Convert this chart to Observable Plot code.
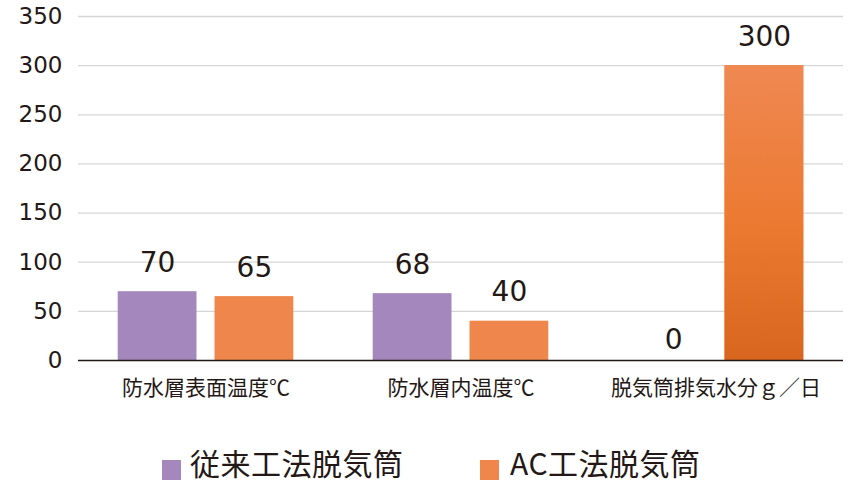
<!DOCTYPE html>
<html><head><meta charset="utf-8">
<script src="https://cdn.jsdelivr.net/npm/d3@7"></script>
<script src="https://cdn.jsdelivr.net/npm/@observablehq/plot@0.6"></script>
<style>
body{margin:0;background:#fff;}
#chart svg{display:block;}
#chart [aria-label^="y-axis"] text{font-family:"DejaVu Sans",sans-serif;font-size:23px;fill:#231815;}
#chart [aria-label^="fx-axis"] text{font-family:"Noto Sans CJK JP",sans-serif;font-size:21px;fill:#231815;}
#legend{position:relative;width:851px;height:65px;font-family:"Noto Sans CJK JP",sans-serif;color:#231815;}
#legend .sw{position:absolute;width:19px;height:20px;top:40px;}
#legend .lb{position:absolute;top:21px;font-size:30px;line-height:1.45;letter-spacing:0.5px;white-space:nowrap;}
</style></head><body><div id="chart"></div><div id="legend"></div>
<script>
const categories = ["防水層表面温度℃", "防水層内温度℃", "脱気筒排気水分ｇ／日"];
const series = ["従来工法脱気筒", "AC工法脱気筒"];
const conventional = [70, 68, 0];
const acMethod = [65, 40, 300];
const yTicks = [0, 50, 100, 150, 200, 250, 300, 350];
const colors = ["#a488bd", "#ef874d"];

const rows = categories.flatMap((c, i) => [
  {category: c, series: series[0], value: conventional[i]},
  {category: c, series: series[1], value: acMethod[i]}
]);
const maxAC = d3.max(acMethod);

const plot = Plot.plot({
  width: 851, height: 420,
  marginLeft: 77, marginRight: 8, marginTop: 16, marginBottom: 60,
  style: {background: "#fff", color: "#231815", fontFamily: "'DejaVu Sans','Noto Sans CJK JP',sans-serif", overflow: "visible"},
  fx: {domain: categories, padding: 0, axis: "bottom", tickSize: 0, tickPadding: 20, label: null},
  x: {domain: series, paddingInner: 0.186, paddingOuter: 0.41, axis: null, round: false},
  y: {domain: [0, 350], ticks: yTicks, tickSize: 0, tickPadding: 16, label: null},
  color: {domain: series, range: colors},
  facet: {data: rows, x: "category"},
  marks: [
    Plot.ruleY(yTicks.filter(t => t > 0), {stroke: "#d6d6d6", strokeWidth: 1.3}),
    Plot.barY(rows, {x: "series", y: "value", fill: "series"}),
    Plot.barY(rows, {filter: d => d.series === series[1] && d.value === maxAC, x: "series", y: "value", fill: "url(#acGrad)"}),
    Plot.ruleY([0], {stroke: "#231815", strokeWidth: 1.5}),
    Plot.text(rows, {filter: d => d.value > 0, x: "series", y: "value", text: d => String(d.value), dy: -20, lineAnchor: "bottom", fontSize: 28, fill: "#231815", fontFamily: "DejaVu Sans"}),
    Plot.text(rows, {filter: d => d.value === 0, x: "series", y: "value", text: d => String(d.value), dy: -12, dx: 6, lineAnchor: "bottom", fontSize: 28, fill: "#231815", fontFamily: "DejaVu Sans"})
  ]
});

const svg = plot.tagName.toLowerCase() === "svg" ? plot : plot.querySelector("svg");
const ns = "http://www.w3.org/2000/svg";
const defs = document.createElementNS(ns, "defs");
const grad = document.createElementNS(ns, "linearGradient");
grad.setAttribute("id", "acGrad");
grad.setAttribute("x1", "0"); grad.setAttribute("y1", "0");
grad.setAttribute("x2", "0"); grad.setAttribute("y2", "1");
[["0", "#ef8852"], ["0.55", "#ec7930"], ["1", "#d8661e"]].forEach(([o, c]) => {
  const s = document.createElementNS(ns, "stop");
  s.setAttribute("offset", o); s.setAttribute("stop-color", c);
  grad.appendChild(s);
});
defs.appendChild(grad);
svg.insertBefore(defs, svg.firstChild);
document.getElementById("chart").appendChild(plot);

const legend = document.getElementById("legend");
const legendPos = [{sw: 162, lb: 190}, {sw: 480, lb: 510}];
series.forEach((s, i) => {
  const sw = document.createElement("div");
  sw.className = "sw"; sw.style.left = legendPos[i].sw + "px"; sw.style.background = colors[i];
  const lb = document.createElement("div");
  lb.className = "lb"; lb.style.left = legendPos[i].lb + "px"; lb.textContent = s;
  legend.appendChild(sw); legend.appendChild(lb);
});
</script></body></html>
